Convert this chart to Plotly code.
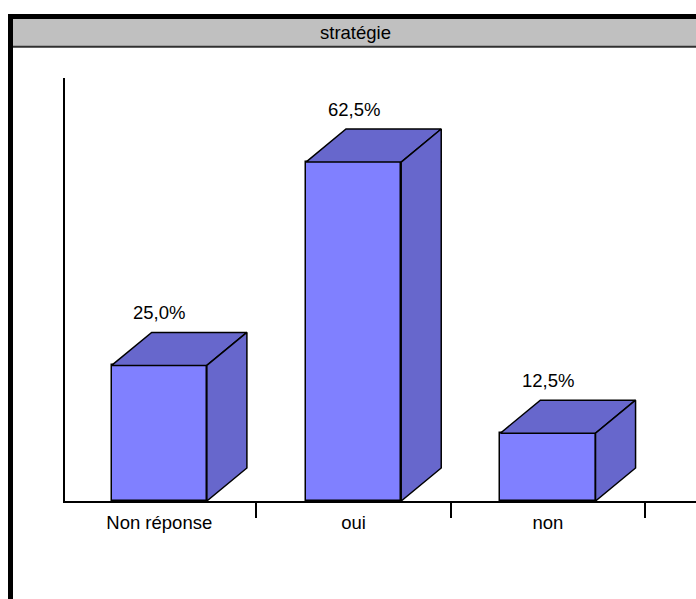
import plotly.graph_objects as go

# Survey answers for "stratégie" (share of respondents, %)
categories = ["Non réponse", "oui", "non"]
values = [25.0, 62.5, 12.5]
title_text = "stratégie"

W, H = 696, 599
FRONT = "#8080FF"
SHADE = "#6767CC"
FONT = "Liberation Sans, Arial, sans-serif"

# bar geometry in axis units
bar_w = 0.49
depth_x = 0.206
depth_y = 6.09

x_pos = list(range(len(categories)))

fig = go.Figure()

# front faces
fig.add_trace(go.Bar(
    x=x_pos, y=values, width=bar_w,
    marker=dict(color=FRONT, line=dict(color="black", width=1.5)),
    hoverinfo="skip", showlegend=False,
))

# top and side faces of each block
for xi, v in zip(x_pos, values):
    l, r = xi - bar_w / 2, xi + bar_w / 2
    fig.add_trace(go.Scatter(
        x=[l, l + depth_x, r + depth_x, r, l],
        y=[v, v + depth_y, v + depth_y, v, v],
        mode="lines", fill="toself", fillcolor=SHADE,
        line=dict(color="black", width=1.5),
        hoverinfo="skip", showlegend=False,
    ))
    fig.add_trace(go.Scatter(
        x=[r, r, r + depth_x, r + depth_x, r],
        y=[0, v, v + depth_y, depth_y, 0],
        mode="lines", fill="toself", fillcolor=SHADE,
        line=dict(color="black", width=1.5),
        hoverinfo="skip", showlegend=False,
    ))
    fig.add_annotation(
        x=xi, y=v + depth_y, yshift=20,
        text=f"{v:.1f}".replace(".", ",") + "%",
        showarrow=False, yanchor="middle",
        font=dict(family=FONT, size=18.5, color="black"),
    )

def px_x(p):
    return p / W

def px_y(p):
    return 1 - p / H

# frame and title bar
shapes = [
    dict(type="rect", xref="paper", yref="paper",
         x0=px_x(13), x1=1, y0=px_y(46), y1=px_y(19),
         fillcolor="#C0C0C0", line=dict(width=0), layer="below"),
    dict(type="line", xref="paper", yref="paper",
         x0=px_x(13), x1=1, y0=px_y(46.8), y1=px_y(46.8),
         line=dict(color="#303030", width=2)),
    dict(type="rect", xref="paper", yref="paper",
         x0=px_x(8), x1=1, y0=px_y(19), y1=px_y(14),
         fillcolor="black", line=dict(width=0)),
    dict(type="rect", xref="paper", yref="paper",
         x0=px_x(8), x1=px_x(13), y0=0, y1=px_y(14),
         fillcolor="black", line=dict(width=0)),
]

fig.add_annotation(
    xref="paper", yref="paper", x=px_x(355.5), y=px_y(32.5),
    text=title_text, showarrow=False, xanchor="center", yanchor="middle",
    font=dict(family=FONT, size=18.5, color="black"),
)

fig.update_layout(
    width=W, height=H,
    margin=dict(l=0, r=0, t=0, b=0),
    paper_bgcolor="white", plot_bgcolor="white",
    shapes=shapes,
    bargap=0,
    xaxis=dict(
        domain=[px_x(65), 1], range=[-0.485, 2.762],
        tickmode="array", tickvals=x_pos, ticktext=categories,
        ticks="", ticklabelstandoff=4,
        tickfont=dict(family=FONT, size=18.5, color="black"),
        showline=True, linecolor="black", linewidth=2,
        showgrid=False, zeroline=False,
        minor=dict(tickmode="array", tickvals=[i + 0.5 for i in x_pos],
                   ticks="outside", ticklen=15, tickwidth=2,
                   tickcolor="black", showgrid=False),
    ),
    yaxis=dict(
        domain=[(H - 501) / H, (H - 78) / H], range=[0, 78],
        showticklabels=False, ticks="",
        showline=True, linecolor="black", linewidth=2,
        showgrid=False, zeroline=False,
    ),
)

fig.write_html("out.html")
